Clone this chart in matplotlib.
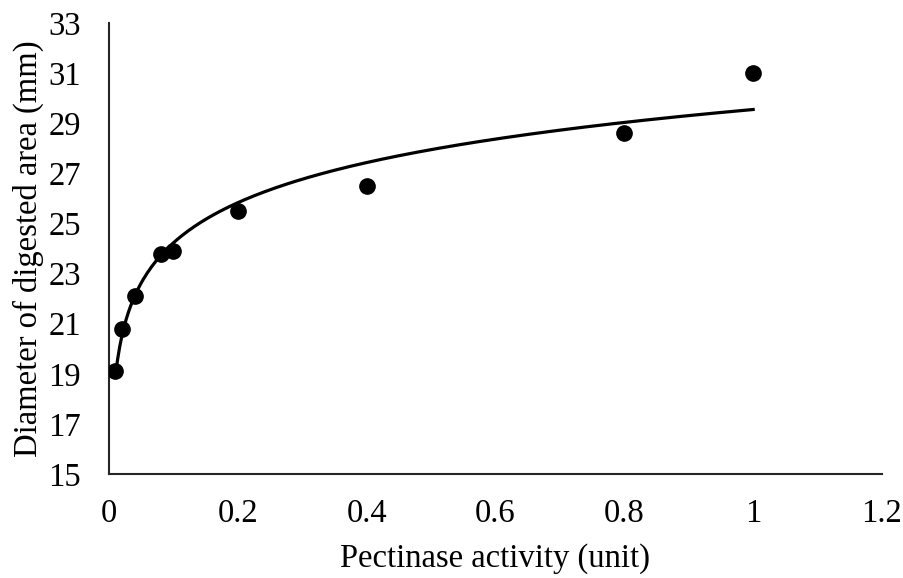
import matplotlib.pyplot as plt
import numpy as np

activity = [0.01, 0.02, 0.04, 0.08, 0.1, 0.2, 0.4, 0.8, 1.0]
diameter = [19.1, 20.8, 22.1, 23.8, 23.9, 25.5, 26.5, 28.6, 31.0]
x_ticks = [0, 0.2, 0.4, 0.6, 0.8, 1, 1.2]
x_labels = ["0", "0.2", "0.4", "0.6", "0.8", "1", "1.2"]
y_ticks = [15, 17, 19, 21, 23, 25, 27, 29, 31, 33]

plt.rcParams['font.family'] = ['Liberation Serif', 'DejaVu Serif']

fig = plt.figure(figsize=(9.04, 5.78), dpi=100)
ax = fig.add_axes([109 / 904, 1 - 474 / 578, (882 - 109) / 904, (474 - 23) / 578])

# logarithmic trendline, least squares on ln(x)
a, b = np.polyfit(np.log(activity), diameter, 1)
xs = np.linspace(min(activity), max(activity), 300)
ax.plot(xs, a * np.log(xs) + b, color='black', lw=2.3, zorder=2)
ax.plot(activity, diameter, 'o', color='black', ms=11, zorder=3)

ax.set_xlim(0, 1.2)
ax.set_ylim(15, 33)
ax.set_xticks(x_ticks)
ax.set_xticklabels(x_labels)
ax.set_yticks(y_ticks)
ax.tick_params(length=0, labelsize=23.5)
ax.tick_params(axis='x', pad=18)
ax.tick_params(axis='y', pad=20)
ax.spines['top'].set_visible(False)
ax.spines['right'].set_visible(False)
for s in ('left', 'bottom'):
    ax.spines[s].set_color('#262626')
    ax.spines[s].set_linewidth(1.5)

ax.set_xlabel('Pectinase activity (unit)', fontsize=23.5, labelpad=10)
ax.set_ylabel('Diameter of digested area (mm)', fontsize=23.5, labelpad=3)

fig.savefig('out.png', dpi=100)
